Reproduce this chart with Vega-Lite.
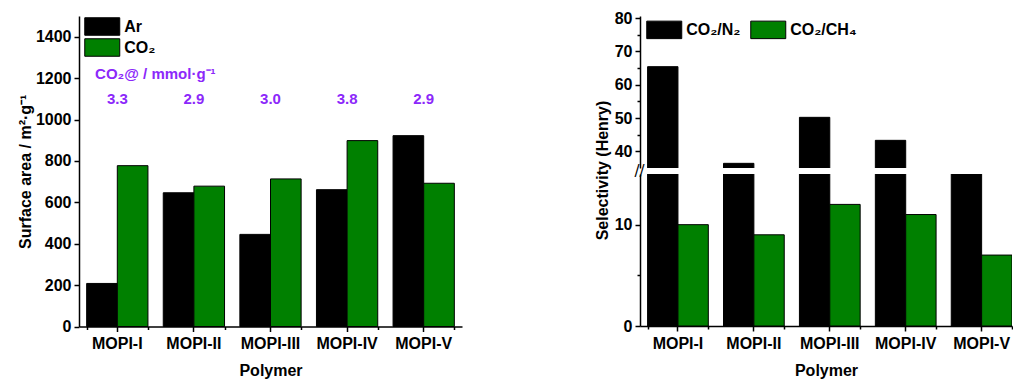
{
  "$schema": "https://vega.github.io/schema/vega-lite/v6.json",
  "background": "white",
  "padding": {"left": 17, "top": 9, "right": 0, "bottom": 2},
  "bounds": "flush",
  "spacing": 178,
  "config": {
    "font": "Liberation Sans",
    "view": {"stroke": null},
    "axis": {
      "grid": false,
      "labelFont": "Liberation Sans",
      "labelFontWeight": "bold",
      "labelFontSize": 16,
      "labelColor": "#000000",
      "titleFont": "Liberation Sans",
      "titleFontWeight": "bold",
      "titleFontSize": 16,
      "titleColor": "#000000",
      "domainColor": "#000000",
      "domainWidth": 1.5,
      "tickColor": "#000000",
      "tickWidth": 1.5,
      "labelOverlap": false
    },
    "legend": {
      "labelFont": "Liberation Sans",
      "labelFontWeight": "bold",
      "labelFontSize": 16,
      "labelColor": "#000000",
      "symbolType": "M-2,-1H2V1H-2Z",
      "symbolSize": 306.25,
      "symbolOffset": 8.75,
      "symbolStrokeColor": "#000000",
      "symbolStrokeWidth": 1,
      "symbolOpacity": 1,
      "labelOffset": 12.5,
      "rowPadding": -3
    }
  },
  "datasets": {
    "surface": [
      {"Polymer": "MOPI-I", "gas": "Ar", "area": 208},
      {"Polymer": "MOPI-I", "gas": "CO₂", "area": 777},
      {"Polymer": "MOPI-II", "gas": "Ar", "area": 646},
      {"Polymer": "MOPI-II", "gas": "CO₂", "area": 678},
      {"Polymer": "MOPI-III", "gas": "Ar", "area": 445},
      {"Polymer": "MOPI-III", "gas": "CO₂", "area": 713},
      {"Polymer": "MOPI-IV", "gas": "Ar", "area": 661},
      {"Polymer": "MOPI-IV", "gas": "CO₂", "area": 898},
      {"Polymer": "MOPI-V", "gas": "Ar", "area": 922},
      {"Polymer": "MOPI-V", "gas": "CO₂", "area": 692}
    ],
    "uptake": [
      {"Polymer": "MOPI-I", "uptake": 3.3},
      {"Polymer": "MOPI-II", "uptake": 2.9},
      {"Polymer": "MOPI-III", "uptake": 3.0},
      {"Polymer": "MOPI-IV", "uptake": 3.8},
      {"Polymer": "MOPI-V", "uptake": 2.9}
    ],
    "selectivity": [
      {"Polymer": "MOPI-I", "pair": "CO₂/N₂", "sel": 65.4},
      {"Polymer": "MOPI-I", "pair": "CO₂/CH₄", "sel": 10.0},
      {"Polymer": "MOPI-II", "pair": "CO₂/N₂", "sel": 36.4},
      {"Polymer": "MOPI-II", "pair": "CO₂/CH₄", "sel": 9.0},
      {"Polymer": "MOPI-III", "pair": "CO₂/N₂", "sel": 50.2},
      {"Polymer": "MOPI-III", "pair": "CO₂/CH₄", "sel": 12.0},
      {"Polymer": "MOPI-IV", "pair": "CO₂/N₂", "sel": 43.3},
      {"Polymer": "MOPI-IV", "pair": "CO₂/CH₄", "sel": 11.0},
      {"Polymer": "MOPI-V", "pair": "CO₂/N₂", "sel": 33.0},
      {"Polymer": "MOPI-V", "pair": "CO₂/CH₄", "sel": 7.0}
    ]
  },
  "resolve": {
    "scale": {"color": "independent", "x": "independent", "xOffset": "independent", "y": "independent"},
    "legend": {"color": "independent"}
  },
  "hconcat": [
    {
      "width": 383,
      "height": 310.5,
      "resolve": {"axis": {"x": "independent"}},
      "layer": [
        {
          "data": {"name": "surface"},
          "mark": {"type": "bar", "stroke": "#000000", "strokeWidth": 1},
          "encoding": {
            "x": {
              "field": "Polymer",
              "type": "nominal",
              "sort": ["MOPI-I", "MOPI-II", "MOPI-III", "MOPI-IV", "MOPI-V"],
              "scale": {"paddingInner": 0.2, "paddingOuter": 0.1},
              "axis": {"labelAngle": 0, "tickSize": 5, "labelPadding": 4, "titlePadding": 11, "orient": "bottom"},
              "title": "Polymer"
            },
            "xOffset": {
              "field": "gas",
              "sort": ["Ar", "CO₂"],
              "scale": {"paddingInner": 0, "paddingOuter": 0}
            },
            "y": {
              "field": "area",
              "type": "quantitative",
              "scale": {"domain": [0, 1500], "nice": false},
              "axis": {
                "values": [0, 100, 200, 300, 400, 500, 600, 700, 800, 900, 1000, 1100, 1200, 1300, 1400, 1500],
                "format": "d",
                "labelExpr": "datum.value % 200 === 0 && datum.value <= 1400 ? datum.label : ''",
                "tickSize": {"condition": {"test": "datum.value % 200 === 0", "value": 5}, "value": 3},
                "labelPadding": 3,
                "titlePadding": 2
              },
              "title": "Surface area / m²·g⁻¹"
            },
            "color": {
              "field": "gas",
              "type": "nominal",
              "scale": {"domain": ["Ar", "CO₂"], "range": ["#000000", "#008000"]},
              "legend": {"orient": "none", "legendX": 5, "legendY": 1, "title": null}
            }
          }
        },
        {
          "data": {"name": "uptake"},
          "mark": {"type": "text", "color": "#8C28FA", "fontWeight": "bold", "fontSize": 15, "font": "Liberation Sans"},
          "encoding": {
            "x": {
              "field": "Polymer",
              "type": "nominal",
              "sort": ["MOPI-I", "MOPI-II", "MOPI-III", "MOPI-IV", "MOPI-V"],
              "axis": {"orient": "bottom", "tickBand": "extent", "labels": false, "domain": false, "tickSize": 3, "title": null}
            },
            "y": {"datum": 1100},
            "text": {"field": "uptake", "type": "quantitative", "format": ".1f"}
          }
        },
        {
          "data": {"values": [{"Polymer": "MOPI-I", "label": "CO₂@ / mmol·g⁻¹"}]},
          "mark": {"type": "text", "color": "#8C28FA", "fontWeight": "bold", "fontSize": 15, "font": "Liberation Sans", "dx": 38},
          "encoding": {
            "x": {"field": "Polymer", "type": "nominal", "sort": ["MOPI-I", "MOPI-II", "MOPI-III", "MOPI-IV", "MOPI-V"], "axis": null},
            "y": {"datum": 1220},
            "text": {"field": "label"}
          }
        }
      ]
    },
    {
      "data": {"name": "selectivity"},
      "bounds": "flush",
      "spacing": 6,
      "resolve": {"scale": {"y": "independent", "color": "independent"}, "legend": {"color": "independent"}},
      "vconcat": [
        {
          "width": 372,
          "height": 152,
          "mark": {"type": "bar", "stroke": "#000000", "strokeWidth": 1, "clip": true},
          "encoding": {
            "x": {
              "field": "Polymer",
              "type": "nominal",
              "sort": ["MOPI-I", "MOPI-II", "MOPI-III", "MOPI-IV", "MOPI-V"],
              "scale": {"paddingInner": 0.2, "paddingOuter": 0.05, "align": 1},
              "axis": null
            },
            "xOffset": {
              "field": "pair",
              "sort": ["CO₂/N₂", "CO₂/CH₄"],
              "scale": {"paddingInner": 0, "paddingOuter": 0}
            },
            "y": {
              "field": "sel",
              "type": "quantitative",
              "scale": {"domain": [35, 80.6], "nice": false, "zero": false},
              "axis": {
                "values": [40, 45, 50, 55, 60, 65, 70, 75, 80],
                "format": "d",
                "labelExpr": "datum.value % 10 === 0 ? datum.label : ''",
                "tickSize": {"condition": {"test": "datum.value % 10 === 0", "value": 5}, "value": 3},
                "labelPadding": 3,
                "titlePadding": 4,
                "titleY": 154
              },
              "title": "Selectivity (Henry)"
            },
            "color": {
              "field": "pair",
              "type": "nominal",
              "scale": {"domain": ["CO₂/N₂", "CO₂/CH₄"], "range": ["#000000", "#008000"]},
              "legend": {"orient": "none", "direction": "horizontal", "legendX": 6, "legendY": 4, "title": null, "columnPadding": 7}
            }
          }
        },
        {
          "width": 372,
          "height": 152,
          "resolve": {"axis": {"x": "independent"}},
          "layer": [
            {
              "transform": [{"filter": "datum.pair === 'CO₂/N₂'"}],
              "mark": {"type": "bar", "stroke": "#000000", "strokeWidth": 1, "clip": true},
              "encoding": {
                "x": {
                  "field": "Polymer",
                  "type": "nominal",
                  "sort": ["MOPI-I", "MOPI-II", "MOPI-III", "MOPI-IV", "MOPI-V"],
                  "scale": {"paddingInner": 0.2, "paddingOuter": 0.05, "align": 1},
                  "axis": {"labelAngle": 0, "tickSize": 5, "labelPadding": 4, "titlePadding": 11, "orient": "bottom"},
                  "title": "Polymer"
                },
                "xOffset": {
                  "field": "pair",
                  "sort": ["CO₂/N₂", "CO₂/CH₄"],
                  "scale": {"domain": ["CO₂/N₂", "CO₂/CH₄"], "paddingInner": 0, "paddingOuter": 0}
                },
                "y": {
                  "field": "sel",
                  "type": "quantitative",
                  "scale": {"domain": [0, 15], "nice": false},
                  "axis": {
                    "values": [0, 5, 10],
                    "format": "d",
                    "labelExpr": "datum.value % 10 === 0 ? datum.label : ''",
                    "tickSize": {"condition": {"test": "datum.value % 10 === 0", "value": 5}, "value": 3},
                    "labelPadding": 3
                  },
                  "title": null
                },
                "color": {
                  "field": "pair",
                  "type": "nominal",
                  "scale": {"domain": ["CO₂/N₂", "CO₂/CH₄"], "range": ["#000000", "#008000"]},
                  "legend": null
                }
              }
            },
            {
              "transform": [{"filter": "datum.pair === 'CO₂/CH₄'"}],
              "mark": {"type": "bar", "stroke": "#000000", "strokeWidth": 1, "clip": true},
              "encoding": {
                "x": {
                  "field": "Polymer",
                  "type": "nominal",
                  "sort": ["MOPI-I", "MOPI-II", "MOPI-III", "MOPI-IV", "MOPI-V"],
                  "axis": {"orient": "bottom", "tickBand": "extent", "labels": false, "domain": false, "tickSize": 3, "title": null}
                },
                "xOffset": {"field": "pair", "sort": ["CO₂/N₂", "CO₂/CH₄"]},
                "y": {"field": "sel", "type": "quantitative"},
                "color": {"field": "pair", "type": "nominal", "legend": null}
              }
            },
            {
              "data": {"values": [{"Polymer": "MOPI-I", "mark": "//"}]},
              "mark": {"type": "text", "fontSize": 15, "font": "DejaVu Sans", "color": "#000000", "dx": -8, "dy": -3},
              "encoding": {
                "x": {"field": "Polymer", "type": "nominal", "bandPosition": 0, "axis": null},
                "y": {"datum": 15},
                "text": {"field": "mark"}
              }
            }
          ]
        }
      ]
    }
  ]
}
